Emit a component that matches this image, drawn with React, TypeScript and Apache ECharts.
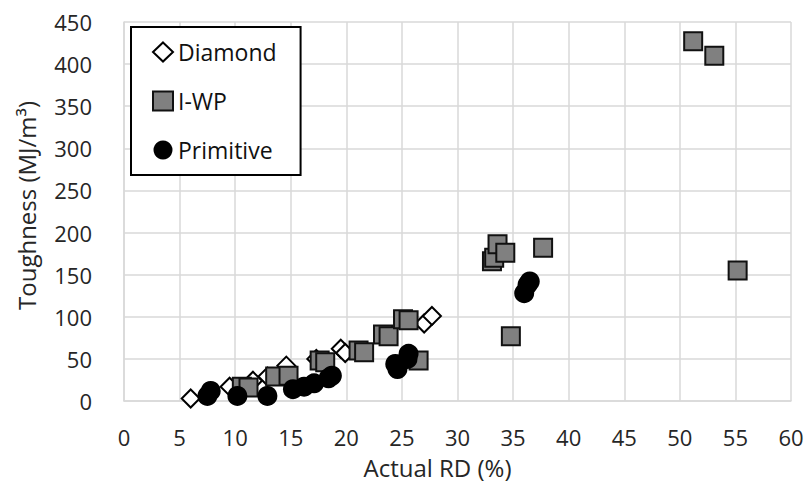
import React, { useEffect, useRef } from "react";
import * as echarts from "echarts";

// Actual relative density (%) vs toughness (MJ/m³) for three lattice types
const diamondData: [number, number][] = [
  [6.0, 3], [9.5, 17], [11.6, 24], [12.9, 29], [14.6, 42], [17.3, 50],
  [19.5, 62], [19.9, 57], [27.0, 92], [27.7, 101],
];

const iwpData: [number, number][] = [
  [10.6, 17], [11.2, 16], [13.6, 29], [14.8, 30], [17.6, 48], [18.1, 46],
  [21.1, 60], [21.6, 58], [23.3, 79], [23.8, 77], [25.1, 97], [25.6, 96],
  [26.5, 48], [33.1, 166], [33.3, 170], [33.6, 186], [34.3, 176], [34.8, 77],
  [37.7, 182], [51.2, 427], [53.1, 410], [55.2, 155],
];

const primitiveData: [number, number][] = [
  [7.5, 6], [7.8, 12], [10.2, 6], [12.9, 6], [15.2, 14], [16.2, 17],
  [17.1, 21], [18.4, 27], [18.7, 30], [24.4, 44], [24.6, 38], [25.5, 50],
  [25.6, 56], [36.0, 128], [36.3, 138], [36.5, 142],
];

const seriesNames = ["Diamond", "I-WP", "Primitive"];
const xTitle = "Actual RD (%)";
const yTitle = "Toughness (MJ/m³)";

const FONT = "'Open Sans', 'Noto Sans', sans-serif";
const TEXT = "#262626";
const GRID = "#d9d9d9";

export default function App() {
  const ref = useRef<HTMLDivElement>(null);

  useEffect(() => {
    if (!ref.current) return;
    const chart = echarts.init(ref.current, undefined, { renderer: "svg" });
    chart.setOption({
      animation: false,
      backgroundColor: "#ffffff",
      textStyle: { fontFamily: FONT },
      grid: { left: 124, top: 22, width: 667, height: 382 },
      legend: {
        orient: "vertical",
        left: 131,
        top: 27,
        padding: [13, 24, 13, 21],
        itemGap: 25,
        itemWidth: 20,
        itemHeight: 19,
        backgroundColor: "#ffffff",
        borderColor: "#000000",
        borderWidth: 2,
        borderRadius: 0,
        textStyle: { fontFamily: FONT, fontSize: 23, color: "#111", lineHeight: 24 },
        data: seriesNames,
      },
      xAxis: {
        type: "value",
        min: 0,
        max: 60,
        interval: 5,
        name: xTitle,
        nameLocation: "middle",
        nameGap: 54,
        nameTextStyle: { fontFamily: FONT, fontSize: 24, color: TEXT, padding: [0, 40, 0, 0] },
        axisLine: { show: true, lineStyle: { color: GRID, width: 1.5 } },
        axisTick: { show: false },
        axisLabel: { fontFamily: FONT, fontSize: 22, color: TEXT, margin: 25 },
        splitLine: { show: true, lineStyle: { color: GRID, width: 1.5 } },
      },
      yAxis: {
        type: "value",
        min: 0,
        max: 450,
        interval: 50,
        name: yTitle,
        nameLocation: "middle",
        nameGap: 86,
        nameTextStyle: { fontFamily: FONT, fontSize: 24, color: TEXT, padding: [0, 0, 0, 12] },
        axisLine: { show: true, lineStyle: { color: GRID, width: 1.5 } },
        axisTick: { show: false },
        axisLabel: { fontFamily: FONT, fontSize: 22, color: TEXT, margin: 32 },
        splitLine: { show: true, lineStyle: { color: GRID, width: 1.5 } },
      },
      series: [
        {
          name: seriesNames[0],
          type: "scatter",
          symbol: "diamond",
          symbolSize: 18,
          data: diamondData,
          itemStyle: { color: "#ffffff", borderColor: "#000000", borderWidth: 2, opacity: 1 },
        },
        {
          name: seriesNames[1],
          type: "scatter",
          symbol: "rect",
          symbolSize: 18,
          data: iwpData,
          itemStyle: { color: "#808080", borderColor: "#111111", borderWidth: 2, opacity: 1 },
        },
        {
          name: seriesNames[2],
          type: "scatter",
          symbol: "circle",
          symbolSize: 20,
          data: primitiveData,
          itemStyle: { color: "#000000", borderColor: "#000000", borderWidth: 0, opacity: 1 },
        },
      ],
    });
    return () => chart.dispose();
  }, []);

  return (
    <div
      ref={ref}
      style={{ position: "fixed", left: 0, top: 0, width: 808, height: 484, background: "#fff" }}
    />
  );
}
